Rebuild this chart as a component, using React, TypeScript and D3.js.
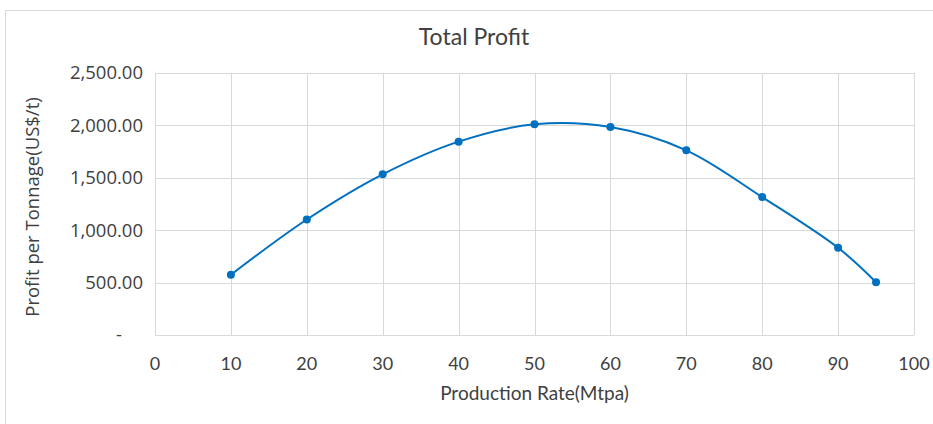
import React, { useEffect, useRef } from 'react';
import * as d3 from 'd3';

const rates = [10, 20, 30, 40, 50, 60, 70, 80, 90, 95];
const profits = [575, 1102, 1533, 1845, 2010, 1984, 1762, 1316, 832, 504];
const xTicks = [0, 10, 20, 30, 40, 50, 60, 70, 80, 90, 100];
const yTicks = [0, 500, 1000, 1500, 2000, 2500];

const W = 933;
const H = 424;

const App: React.FC = () => {
    const svgRef = useRef<SVGSVGElement>(null);

    useEffect(() => {
        if (!svgRef.current) return;
        const svg = d3.select(svgRef.current);
        svg.selectAll('*').remove();

        const margin = { top: 73, right: 19, bottom: 89, left: 155 };
        const width = W - margin.left - margin.right;
        const height = H - margin.top - margin.bottom;
        const textColor = '#404040';

        // chart border
        svg.append('rect')
            .attr('x', 5.5).attr('y', 10.5)
            .attr('width', W).attr('height', H)
            .attr('fill', '#fff')
            .attr('stroke', '#d9d9d9');

        const x = d3.scaleLinear().domain([0, 100]).range([0, width]);
        const y = d3.scaleLinear().domain([0, 2500]).range([height, 0]);

        const g = svg.append('g')
            .attr('transform', `translate(${margin.left},${margin.top})`);

        // gridlines
        g.append('g')
            .selectAll('line')
            .data(yTicks)
            .join('line')
            .attr('x1', 0).attr('x2', width)
            .attr('y1', d => Math.round(y(d)) + 0.5).attr('y2', d => Math.round(y(d)) + 0.5)
            .attr('stroke', '#d9d9d9');

        g.append('g')
            .selectAll('line')
            .data(xTicks)
            .join('line')
            .attr('x1', d => Math.round(x(d)) + 0.5).attr('x2', d => Math.round(x(d)) + 0.5)
            .attr('y1', 0).attr('y2', height)
            .attr('stroke', '#d9d9d9');

        // y labels
        g.append('g')
            .selectAll('text')
            .data(yTicks)
            .join('text')
            .attr('x', d => (d === 0 ? -33 : -12))
            .attr('y', d => y(d))
            .attr('dy', '0.35em')
            .attr('text-anchor', 'end')
            .attr('font-family', '"Open Sans", sans-serif')
            .attr('font-size', 18.5)
            .attr('fill', textColor)
            .text(d => (d === 0 ? '-' : d3.format(',.2f')(d)));

        // x labels
        g.append('g')
            .selectAll('text')
            .data(xTicks)
            .join('text')
            .attr('x', d => x(d))
            .attr('y', height + 35)
            .attr('text-anchor', 'middle')
            .attr('font-family', 'Lato, sans-serif')
            .attr('font-size', 18)
            .attr('fill', textColor)
            .text(d => d);

        // line
        const pts = rates.map((r, i) => [r, profits[i]] as [number, number]);
        const line = d3.line<[number, number]>()
            .x(d => x(d[0]))
            .y(d => y(d[1]))
            .curve(d3.curveCatmullRom.alpha(0.5));

        g.append('path')
            .datum(pts)
            .attr('fill', 'none')
            .attr('stroke', '#0070c0')
            .attr('stroke-width', 2)
            .attr('d', line);

        g.append('g')
            .selectAll('circle')
            .data(pts)
            .join('circle')
            .attr('cx', d => x(d[0]))
            .attr('cy', d => y(d[1]))
            .attr('r', 4)
            .attr('fill', '#0070c0');

        // titles
        svg.append('text')
            .attr('x', 474).attr('y', 45)
            .attr('text-anchor', 'middle')
            .attr('font-family', 'Lato, sans-serif')
            .attr('font-size', 23)
            .attr('fill', textColor)
            .text('Total Profit');

        svg.append('text')
            .attr('x', margin.left + width / 2 - 0).attr('y', 400)
            .attr('text-anchor', 'middle')
            .attr('font-family', 'Lato, sans-serif')
            .attr('font-size', 19)
            .attr('fill', textColor)
            .text('Production Rate(Mtpa)');

        svg.append('text')
            .attr('transform', `translate(39,${margin.top + height / 2 + 3}) rotate(-90)`)
            .attr('text-anchor', 'middle')
            .attr('font-family', '"Open Sans", sans-serif')
            .attr('font-size', 18.5)
            .attr('fill', textColor)
            .text('Profit per Tonnage(US$/t)');
    }, []);

    return (
        <svg ref={svgRef} width={W} height={H}
            style={{ position: 'absolute', left: 0, top: 0, display: 'block' }} />
    );
};

export default App;
